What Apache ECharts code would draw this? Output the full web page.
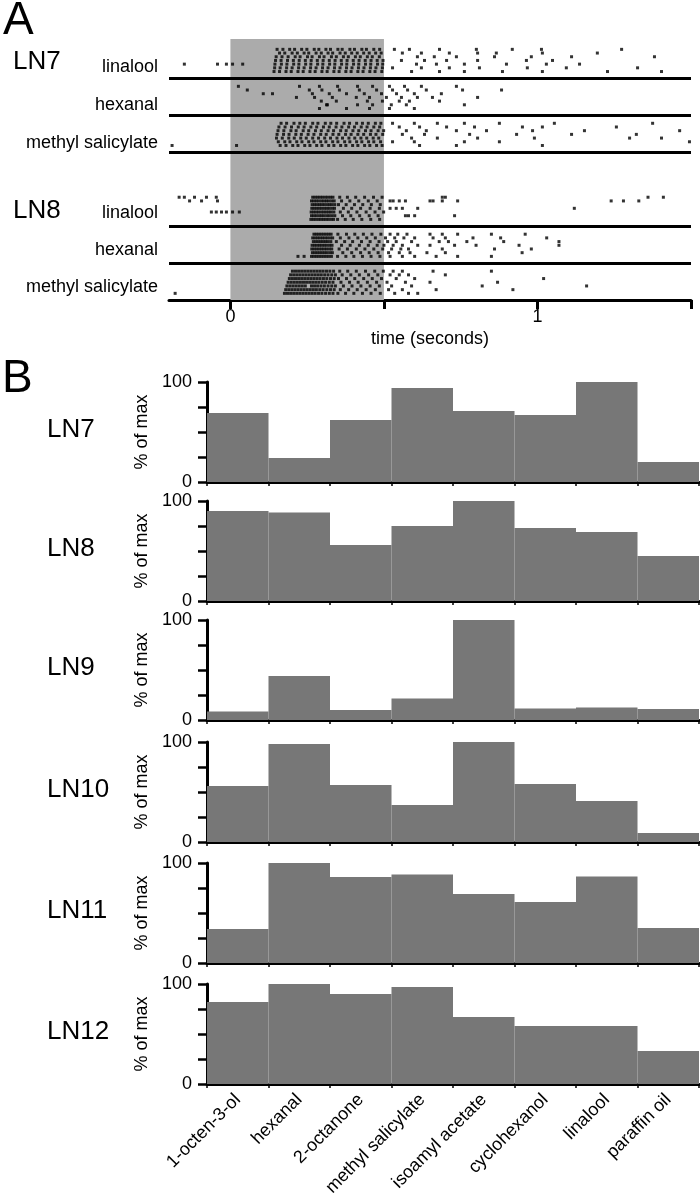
<!DOCTYPE html>
<html><head><meta charset="utf-8">
<script src="https://cdn.jsdelivr.net/npm/echarts@6/dist/echarts.min.js"></script>
<style>html,body{margin:0;padding:0;background:#fff}#c{width:700px;height:1200px}</style>
</head><body><div id="c"></div>
<script>
// ---------- Panel A data: spike times (ms) per trial ----------
const rasterCells = ['LN7', 'LN8'];
const rasterOdors = ['linalool', 'hexanal', 'methyl salicylate'];
const timeTicks = [0, 0.5, 1, 1.5];
const timeLabels = [0, 1];

const lin7 = [
  [152,171,193,209,232,249,273,288,311,326,350,364,389,404,428,443,467,486,534,583,681,801,918,1013,1274],
  [160,177,201,218,240,255,279,296,318,333,357,374,395,413,434,452,473,491,560,622,713,805,866,1016,1195],
  [149,168,188,211,227,251,266,290,305,329,345,368,384,407,423,446,462,485,609,664,736,860,980,1111,1381],
  [147,165,186,205,224,244,263,283,302,322,341,361,380,400,419,439,458,478,497,557,632,704,805,964,1049],
  [-150,-42,-13,7,40,145,166,184,206,223,245,262,284,301,323,340,362,379,401,418,440,457,479,496,606,671,762,899,1029,1137],
  [144,162,183,201,222,240,261,279,300,318,339,357,378,396,417,435,456,474,495,528,622,713,811,967,1094,1326],
  [142,160,181,198,220,237,259,276,298,315,337,354,376,393,415,432,454,471,493,590,681,762,886,1016,1228,1404]
];
const hex7 = [
  [26,225,290,349,414,463,518,567,622,736],
  [55,257,298,355,420,476,528,577,638,756,883],
  [107,137,267,322,378,436,492,541,599,687],
  [215,274,332,410,453,508,557,609,658,805],
  [296,345,446,495,550,583,681],
  [313,316,414,463,524,573,762],
  [290,378,453,518,599]
];
const ms7 = [
  [165,183,207,226,244,268,285,309,327,346,370,388,411,430,449,472,490,528,599,674,762,876,1055,1375],
  [158,178,199,221,240,262,281,303,322,344,363,385,404,426,445,467,486,550,616,704,795,951,1016,1257],
  [155,174,197,214,237,255,277,296,318,336,359,377,399,418,440,458,481,499,573,638,736,834,984,1153,1463],
  [152,173,191,213,231,253,272,294,312,334,353,375,393,415,434,456,474,496,560,632,779,932,1111,1322],
  [150,169,190,208,229,247,268,287,307,326,347,365,386,405,425,444,465,483,590,674,805,990,1300,1404],
  [156,177,194,216,233,255,272,294,311,333,350,372,389,411,428,450,467,489,528,599,762,876,1495],
  [-190,20,162,181,203,220,242,259,281,298,320,337,359,376,398,415,437,454,476,494,616,736,1016]
];
const lin8 = [
  [-167,-150,-117,-78,-46,268,276,284,292,300,309,317,326,334,356,381,408,437,466,494,690,700,1360,1410],
  [-133,-94,-42,264,272,280,288,297,305,313,321,330,338,362,389,418,449,478,520,530,550,570,650,660,690,740,1240,1280,1330],
  [266,274,282,290,298,306,315,323,331,340,352,377,404,431,459,488],
  [265,273,281,289,297,306,314,322,331,339,368,395,424,455,485,520,540,560,610,1120],
  [-62,-46,-29,-13,7,29,263,271,279,287,296,304,312,320,328,337,358,384,412,442,471,499],
  [264,272,280,289,297,305,314,322,331,340,365,392,421,452,481,570,580,600,730],
  [262,270,278,287,295,303,311,319,328,336,349,374,400,428,457,486]
];
const hex8 = [
  [272,280,288,296,304,312,320,328,350,378,405,433,461,490,520,545,575,650,690,740,850,960],
  [268,276,284,292,300,308,316,325,333,358,386,415,444,472,505,535,565,600,660,700,790,880,1030],
  [270,278,286,294,302,310,318,327,345,372,398,427,455,484,512,540,590,680,710,770,890,1070],
  [266,274,282,290,298,306,314,323,331,362,390,420,449,478,500,530,560,610,650,730,800,940,1070],
  [265,273,281,289,297,305,313,322,330,354,381,410,438,467,496,525,555,580,690,860,980],
  [267,275,283,291,299,307,315,324,332,366,395,424,452,481,515,550,585,640,700,950],
  [220,240,264,272,280,288,296,304,312,320,329,349,376,402,430,458,487,520,560,600,670,740,850]
];
const ms8 = [
  [202,212,222,232,242,252,262,272,282,292,302,313,324,336,356,382,410,440,470,498,530,560,660,850],
  [196,206,216,226,236,246,256,266,276,286,296,307,318,330,342,364,392,420,450,480,520,550,580,700],
  [192,202,212,222,232,242,252,262,272,282,292,303,314,326,338,352,378,405,434,462,492,540,600,1020],
  [188,198,208,218,228,238,248,258,268,278,288,299,310,322,334,360,388,416,446,476,510,570,650,870],
  [184,194,204,214,224,234,244,264,274,284,295,306,318,330,342,368,396,425,455,485,525,590,820,1160],
  [180,190,200,210,220,230,240,250,260,270,280,291,302,314,326,338,358,385,413,442,472,515,560,670,920],
  [-180,176,186,196,206,216,226,236,246,256,266,276,287,298,310,322,334,350,375,402,430,458,488,535,580,610]
];

// ---------- Panel B data ----------
const odors = ['1-octen-3-ol','hexanal','2-octanone','methyl salicylate','isoamyl acetate','cyclohexanol','linalool','paraffin oil'];
const cells = ['LN7','LN8','LN9','LN10','LN11','LN12'];
const ln7 = [69, 24, 62, 94, 71, 67, 100, 20];
const ln8 = [90, 88.5, 56, 75, 100, 73, 69, 45];
const ln9 = [8.5, 44, 10, 21.5, 100, 11.5, 12.5, 11];
const ln10 = [56, 98, 57, 37, 100, 58, 41, 9];
const ln11 = [34, 100, 86, 88.5, 69, 61, 86.5, 35];
const ln12 = [82, 100, 90, 97, 67, 58, 58, 33];
const yTicksB = [0, 100];

// ---------- build ----------
const FONT = '"Liberation Sans", Arial, Helvetica, sans-serif';
const rows = [lin7, hex7, ms7, lin8, hex8, ms8];
const bandBase = [0, 10, 20, 40, 50, 60];
const spikes = [];
rows.forEach((trials, r) => {
  trials.forEach((tr, k) => {
    tr.forEach(ms => spikes.push([ms / 1000, bandBase[r] + 2.2 + k]));
  });
});

const grids = [{ left: 169, width: 522, top: 39, height: 261 }];
const xAxes = [{
  gridIndex: 0, type: 'value', min: -0.2, max: 1.5, position: 'bottom',
  axisLine: { onZero: false, lineStyle: { color: '#000', width: 3 } },
  axisTick: { customValues: timeTicks, length: 9, lineStyle: { color: '#000', width: 3 } },
  axisLabel: { customValues: timeLabels, color: '#000', fontSize: 18, fontFamily: FONT, margin: 8 },
  splitLine: { show: false },
  name: 'time (seconds)', nameLocation: 'middle', nameGap: 30,
  nameTextStyle: { color: '#000', fontSize: 18, fontFamily: FONT }
}];
const yAxes = [{ gridIndex: 0, type: 'value', inverse: true, min: -0.6, max: 70, show: false }];
const series = [
  { type: 'line', xAxisIndex: 0, yAxisIndex: 0, data: [], silent: true, z: 1,
    markArea: { silent: true, itemStyle: { color: '#ababab' }, data: [[{ xAxis: 0 }, { xAxis: 0.5 }]] } },
  { type: 'line', xAxisIndex: 0, yAxisIndex: 0, data: [], silent: true, z: 2,
    markLine: { silent: true, symbol: ['none', 'none'], label: { show: false },
      lineStyle: { color: '#000', width: 3, type: 'solid' },
      data: [{ yAxis: 10 }, { yAxis: 20 }, { yAxis: 30 }, { yAxis: 50 }, { yAxis: 60 }] } },
  { type: 'scatter', xAxisIndex: 0, yAxisIndex: 0, data: spikes, symbol: 'rect', symbolSize: 3,
    itemStyle: { color: '#000' }, silent: true, z: 3 }
];

const barData = [ln7, ln8, ln9, ln10, ln11, ln12];
const barTops = [382, 501, 620, 742, 863, 984];
const graphics = [];
barData.forEach((vals, i) => {
  const gi = i + 1;
  const last = i === barData.length - 1;
  grids.push({ left: 207, width: 492, top: barTops[i], height: 100 });
  xAxes.push({
    gridIndex: gi, type: 'category', data: odors,
    axisLine: { lineStyle: { color: '#000', width: 3 } },
    axisTick: { show: true, length: 4, lineStyle: { color: '#000', width: 1.5 } },
    axisLabel: { show: last, rotate: 45, interval: 0, color: '#000', fontSize: 18, fontFamily: FONT, margin: 13 }
  });
  yAxes.push({
    gridIndex: gi, type: 'value', min: 0, max: 100, interval: 25,
    axisLine: { show: true, lineStyle: { color: '#000', width: 3 } },
    axisTick: { show: true, length: 9, lineStyle: { color: '#000', width: 2.5 } },
    axisLabel: { customValues: yTicksB, color: '#000', fontSize: 18, fontFamily: FONT, margin: 15 },
    splitLine: { show: false },
    name: '% of max', nameLocation: 'middle', nameRotate: 90, nameGap: 56,
    nameTextStyle: { color: '#000', fontSize: 18, fontFamily: FONT }
  });
  series.push({
    type: 'bar', xAxisIndex: gi, yAxisIndex: gi, data: vals, barCategoryGap: '0%',
    itemStyle: { color: '#777777' }, silent: true
  });
  graphics.push({ type: 'text', left: 47, top: barTops[i] + 50 - 15,
    style: { text: cells[i], font: '26px ' + FONT, fill: '#000' } });
});

// Panel labels
graphics.push({ type: 'text', left: 3, top: -2, style: { text: 'A', font: '46px ' + FONT, fill: '#000' } });
graphics.push({ type: 'text', left: 2, top: 356, style: { text: 'B', font: '46px ' + FONT, fill: '#000' } });
const cellY = [62, 211];
const odorY = [[67, 105, 143], [213, 250, 287]];
rasterCells.forEach((c, ci) => {
  graphics.push({ type: 'text', x: 13, y: cellY[ci],
    style: { text: c, font: '26px ' + FONT, fill: '#000', verticalAlign: 'middle', align: 'left' } });
  rasterOdors.forEach((o, oi) => {
    graphics.push({ type: 'text', x: 158, y: odorY[ci][oi],
      style: { text: o, font: '18px ' + FONT, fill: '#000', verticalAlign: 'middle', align: 'right' } });
  });
});

const chart = echarts.init(document.getElementById('c'), null, { renderer: 'canvas' });
chart.setOption({
  animation: false,
  backgroundColor: '#fff',
  grid: grids, xAxis: xAxes, yAxis: yAxes, series: series, graphic: graphics
});
</script></body></html>
